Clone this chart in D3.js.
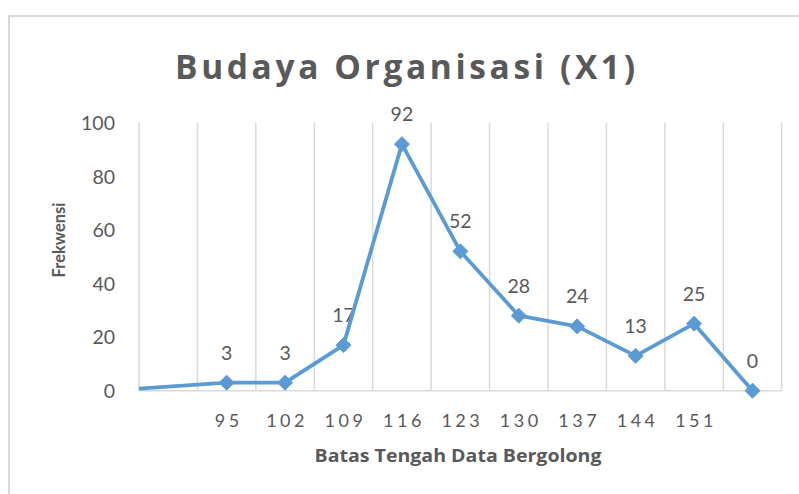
<!DOCTYPE html>
<html><head><meta charset="utf-8">
<script src="https://cdn.jsdelivr.net/npm/d3@7"></script>
<style>body{margin:0;background:#fff}svg{display:block}</style>
</head><body>
<svg id="c" width="799" height="494"></svg>
<script>
const title = "Budaya Organisasi (X1)";
const xTitle = "Batas Tengah Data Bergolong";
const yTitle = "Frekwensi";
const categories = ["", "95", "102", "109", "116", "123", "130", "137", "144", "151", ""];
const values = [null, 3, 3, 17, 92, 52, 28, 24, 13, 25, 0];
const leadingValue = 0; // value of the (off-plot) point before the first category
const yTicks = [0, 20, 40, 60, 80, 100];

const W = 799, H = 494;
const m = {left: 139, right: 799 - 781.7, top: 122.7, bottom: 494 - 390.7};
const svg = d3.select("#c");
const font = "Lato, 'Open Sans', sans-serif";
const bfont = "'Open Sans', Lato, sans-serif";
const txt = "#595959", blue = "#5b9bd5", grid = "#d9d9d9";

// outer border
svg.append("rect").attr("x", 9).attr("y", 16).attr("width", W + 20).attr("height", H + 20)
  .attr("fill", "#fff").attr("stroke", grid).attr("stroke-width", 2);

const n = categories.length;
// category index -> band centre
const x = d3.scaleLinear().domain([-0.5, n - 0.5]).range([m.left, W - m.right]);
const y = d3.scaleLinear().domain([0, 100]).range([H - m.bottom, m.top]);

// vertical gridlines (category boundaries)
const bounds = d3.range(n + 1).map(i => i - 0.5);
svg.append("g").selectAll("line").data(bounds).join("line")
  .attr("x1", d => x(d)).attr("x2", d => x(d)).attr("y1", y(100)).attr("y2", y(0))
  .attr("stroke", grid).attr("stroke-width", 1.5);
svg.append("line").attr("x1", m.left).attr("x2", W - m.right).attr("y1", y(0)).attr("y2", y(0))
  .attr("stroke", grid).attr("stroke-width", 1.5);

// y tick labels
svg.append("g").selectAll("text").data(yTicks).join("text")
  .attr("x", 115).attr("y", d => y(d)).attr("dy", "0.37em").attr("text-anchor", "end")
  .attr("font-family", font).attr("font-size", 19.5).attr("fill", txt).text(d => d);

// x tick labels
svg.append("g").selectAll("text").data(categories.map((c, i) => ({c, i}))).join("text")
  .attr("x", (d) => x(d.i) + 2).attr("y", 427).attr("text-anchor", "middle")
  .attr("font-family", font).attr("font-size", 18).attr("letter-spacing", "3.5px")
  .attr("fill", txt).text(d => d.c);

// data labels
const pts = values.map((v, i) => ({v, i})).filter(d => d.v !== null);
svg.append("g").selectAll("text").data(pts).join("text")
  .attr("x", d => x(d.i)).attr("y", d => y(d.v) - 23).attr("text-anchor", "middle")
  .attr("font-family", font).attr("font-size", 19.5).attr("fill", txt).text(d => d.v);

// line (clipped to plot area)
svg.append("clipPath").attr("id", "clip").append("rect")
  .attr("x", m.left).attr("y", 0).attr("width", W - m.left).attr("height", H);
const linePts = [{v: leadingValue, i: -1}].concat(pts);
const line = d3.line().x(d => x(d.i)).y(d => y(d.v));
svg.append("path").datum(linePts).attr("d", line).attr("clip-path", "url(#clip)")
  .attr("fill", "none").attr("stroke", blue).attr("stroke-width", 3.8)
  .attr("stroke-linejoin", "round");

// diamond markers
svg.append("g").selectAll("path").data(pts).join("path")
  .attr("transform", d => `translate(${x(d.i)},${y(d.v)})`)
  .attr("d", "M0,-7.5L7.5,0L0,7.5L-7.5,0Z").attr("fill", blue).attr("stroke", blue).attr("stroke-width", 1);

// titles
const t = svg.append("text").attr("y", 79).attr("x", 175).attr("font-family", bfont).attr("font-weight", "bold")
  .attr("font-size", 33.5).attr("fill", txt).text(title);
{
  const nat = t.node().getComputedTextLength();
  const ls = Math.max(0, (460 - nat) / (title.length - 1));
  t.attr("letter-spacing", ls + "px");
}
svg.append("text").attr("x", 458).attr("y", 462).attr("text-anchor", "middle")
  .attr("font-family", bfont).attr("font-weight", "bold").attr("font-size", 18).attr("fill", txt)
  .attr("textLength", 287).attr("lengthAdjust", "spacingAndGlyphs").text(xTitle);
svg.append("text").attr("transform", "translate(65,240) rotate(-90)").attr("text-anchor", "middle")
  .attr("font-family", font).attr("font-weight", "bold").attr("font-size", 16.5).attr("fill", txt)
  .text(yTitle);
</script>
</body></html>
